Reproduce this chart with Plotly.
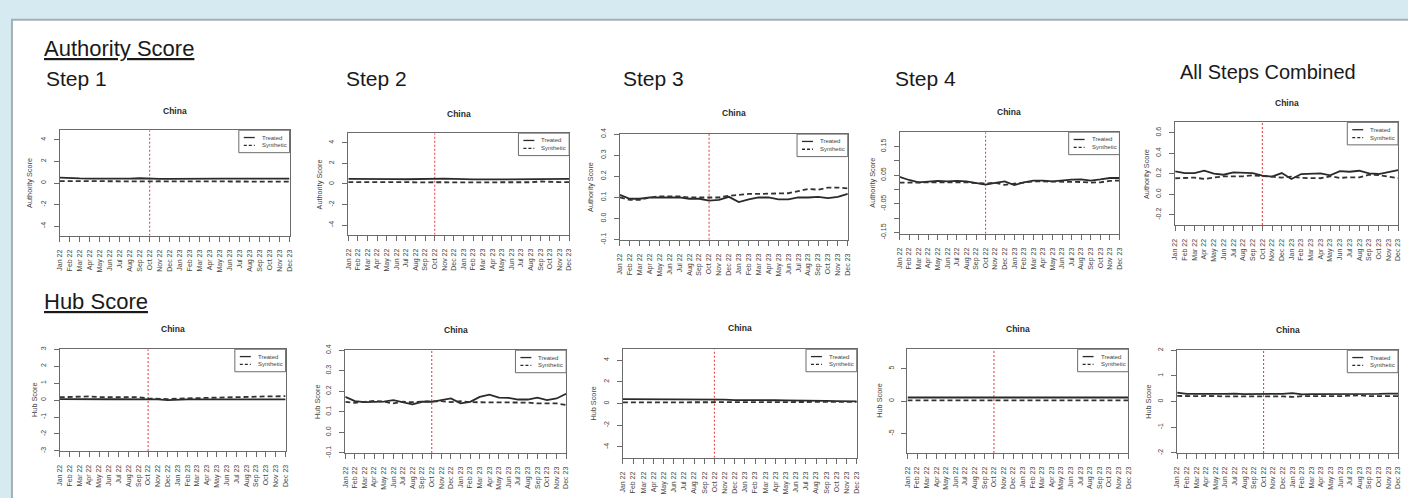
import plotly.graph_objects as go

W, H = 1408, 498

months = ["Jan 22", "Feb 22", "Mar 22", "Apr 22", "May 22", "Jun 22", "Jul 22", "Aug 22",
          "Sep 22", "Oct 22", "Nov 22", "Dec 22", "Jan 23", "Feb 23", "Mar 23", "Apr 23",
          "May 23", "Jun 23", "Jul 23", "Aug 23", "Sep 23", "Oct 23", "Nov 23", "Dec 23"]
treatment_month = "Oct 22"

# Authority score, China: treated unit vs synthetic control
auth_step1_treated = [0.50, 0.44, 0.42, 0.41, 0.40, 0.40, 0.41, 0.40, 0.44, 0.40, 0.38, 0.39,
                      0.38, 0.38, 0.39, 0.38, 0.40, 0.40, 0.41, 0.39, 0.40, 0.38, 0.39, 0.40]
auth_step1_synth = [0.18, 0.17, 0.16, 0.17, 0.15, 0.16, 0.16, 0.15, 0.16, 0.15, 0.16, 0.17,
                    0.14, 0.15, 0.15, 0.14, 0.15, 0.14, 0.13, 0.14, 0.12, 0.12, 0.13, 0.13]
auth_step2_treated = [0.50, 0.48, 0.47, 0.48, 0.47, 0.47, 0.46, 0.47, 0.55, 0.54, 0.52, 0.50,
                      0.45, 0.44, 0.44, 0.45, 0.45, 0.48, 0.46, 0.47, 0.47, 0.48, 0.48, 0.49]
auth_step2_synth = [0.18, 0.19, 0.18, 0.19, 0.18, 0.19, 0.18, 0.16, 0.18, 0.15, 0.17, 0.16,
                    0.16, 0.15, 0.16, 0.18, 0.20, 0.17, 0.18, 0.17, 0.24, 0.19, 0.18, 0.19]
auth_step3_treated = [0.112, 0.094, 0.094, 0.100, 0.100, 0.100, 0.100, 0.094, 0.094, 0.085, 0.089, 0.103,
                      0.078, 0.091, 0.100, 0.100, 0.091, 0.091, 0.100, 0.100, 0.103, 0.097, 0.103, 0.117]
auth_step3_synth = [0.100, 0.089, 0.089, 0.100, 0.105, 0.105, 0.105, 0.100, 0.100, 0.100, 0.100, 0.108,
                    0.112, 0.117, 0.117, 0.117, 0.117, 0.120, 0.130, 0.140, 0.137, 0.147, 0.147, 0.143]
auth_step4_treated = [0.044, 0.033, 0.025, 0.028, 0.030, 0.028, 0.030, 0.028, 0.022, 0.017, 0.023, 0.028,
                      0.015, 0.025, 0.031, 0.031, 0.028, 0.032, 0.034, 0.035, 0.031, 0.035, 0.040, 0.040]
auth_step4_synth = [0.024, 0.024, 0.024, 0.026, 0.026, 0.024, 0.026, 0.025, 0.022, 0.021, 0.023, 0.016,
                    0.020, 0.025, 0.028, 0.028, 0.028, 0.028, 0.026, 0.026, 0.024, 0.025, 0.030, 0.031]
auth_all_treated = [0.222, 0.206, 0.206, 0.229, 0.200, 0.190, 0.213, 0.213, 0.206, 0.181, 0.171, 0.206,
                    0.149, 0.197, 0.203, 0.203, 0.184, 0.225, 0.219, 0.229, 0.203, 0.197, 0.216, 0.235]
auth_all_synth = [0.156, 0.156, 0.162, 0.149, 0.162, 0.175, 0.175, 0.175, 0.184, 0.181, 0.171, 0.162,
                  0.171, 0.159, 0.156, 0.156, 0.175, 0.159, 0.165, 0.165, 0.190, 0.187, 0.171, 0.156]

# Hub score, China: treated unit vs synthetic control
hub_step1_treated = [0.06, 0.05, 0.05, 0.05, 0.05, 0.05, 0.05, 0.05, 0.05, 0.06, 0.04, 0.00,
                     0.03, 0.04, 0.04, 0.04, 0.04, 0.04, 0.04, 0.04, 0.04, 0.04, 0.04, 0.04]
hub_step1_synth = [0.17, 0.18, 0.19, 0.22, 0.18, 0.18, 0.17, 0.17, 0.17, 0.10, 0.08, 0.06,
                   0.09, 0.10, 0.11, 0.11, 0.12, 0.13, 0.15, 0.18, 0.20, 0.22, 0.23, 0.23]
hub_step2_treated = [0.173, 0.152, 0.147, 0.147, 0.150, 0.157, 0.147, 0.136, 0.149, 0.149, 0.157, 0.165,
                     0.141, 0.149, 0.173, 0.184, 0.169, 0.168, 0.160, 0.160, 0.169, 0.157, 0.165, 0.188]
hub_step2_synth = [0.149, 0.144, 0.149, 0.153, 0.150, 0.141, 0.149, 0.147, 0.150, 0.152, 0.152, 0.147,
                   0.152, 0.147, 0.147, 0.147, 0.147, 0.144, 0.144, 0.145, 0.141, 0.141, 0.141, 0.133]
hub_step3_treated = [0.40, 0.40, 0.39, 0.38, 0.36, 0.40, 0.36, 0.35, 0.36, 0.36, 0.36, 0.32,
                     0.30, 0.30, 0.30, 0.30, 0.29, 0.29, 0.28, 0.25, 0.24, 0.22, 0.22, 0.20]
hub_step3_synth = [0.10, 0.10, 0.08, 0.09, 0.10, 0.08, 0.09, 0.08, 0.09, 0.10, 0.09, 0.09,
                   0.09, 0.09, 0.09, 0.10, 0.10, 0.11, 0.14, 0.16, 0.15, 0.16, 0.17, 0.15]
hub_step4_treated = [0.55, 0.55, 0.54, 0.54, 0.53, 0.54, 0.52, 0.53, 0.53, 0.52, 0.52, 0.52,
                     0.50, 0.55, 0.48, 0.48, 0.50, 0.50, 0.52, 0.50, 0.50, 0.52, 0.55, 0.55]
hub_step4_synth = [0.12, 0.12, 0.13, 0.12, 0.12, 0.11, 0.12, 0.11, 0.12, 0.12, 0.12, 0.12,
                   0.12, 0.12, 0.11, 0.12, 0.11, 0.12, 0.12, 0.11, 0.05, 0.08, 0.10, 0.10]
hub_all_treated = [0.35, 0.30, 0.30, 0.31, 0.30, 0.30, 0.31, 0.29, 0.29, 0.29, 0.29, 0.30,
                   0.33, 0.28, 0.29, 0.29, 0.29, 0.29, 0.28, 0.28, 0.30, 0.30, 0.31, 0.31]
hub_all_synth = [0.22, 0.21, 0.21, 0.22, 0.20, 0.20, 0.20, 0.20, 0.20, 0.21, 0.21, 0.20,
                 0.18, 0.21, 0.21, 0.20, 0.21, 0.21, 0.22, 0.25, 0.21, 0.20, 0.21, 0.21]

# y tick values / labels per panel
yt_pm4 = [-4, -2, 0, 2, 4]
yt_dec = [-0.1, 0.0, 0.1, 0.2, 0.3, 0.4]
yl_dec = ["-0.1", "0.0", "0.1", "0.2", "0.3", "0.4"]
yt_step4 = [-0.15, -0.10, -0.05, 0.0, 0.05, 0.10, 0.15]
yl_step4 = ["-0.15", "", "-0.05", "", "0.05", "", "0.15"]
yt_all = [-0.2, 0.0, 0.2, 0.4, 0.6]
yl_all = ["-0.2", "0.0", "0.2", "0.4", "0.6"]
yt_pm3 = [-3, -2, -1, 0, 1, 2, 3]
yt_pm5 = [-5, 0, 5]
yt_pm2 = [-2, -1, 0, 1, 2]

# panel geometry in pixels: (left, top, right, bottom), title centre y, y-title x
panels = [
    dict(tr=auth_step1_treated, sy=auth_step1_synth, box=(56, 127, 287, 235), yr=(-4.9, 4.9),
         yt=yt_pm4, yl=None, ytitle="Authority Score", ytx=25, cty=107),
    dict(tr=auth_step2_treated, sy=auth_step2_synth, box=(346, 130, 568, 234), yr=(-4.95, 4.95),
         yt=yt_pm4, yl=None, ytitle="Authority Score", ytx=318, cty=110),
    dict(tr=auth_step3_treated, sy=auth_step3_synth, box=(619, 131, 848, 239), yr=(-0.1, 0.4),
         yt=yt_dec, yl=yl_dec, ytitle="Authority Score", ytx=590, cty=109),
    dict(tr=auth_step4_treated, sy=auth_step4_synth, box=(900, 129, 1121, 233), yr=(-0.155, 0.2),
         yt=yt_step4, yl=yl_step4, ytitle="Authority Score", ytx=872, cty=108),
    dict(tr=auth_all_treated, sy=auth_all_synth, box=(1177, 119, 1401, 224), yr=(-0.3, 0.7),
         yt=yt_all, yl=yl_all, ytitle="Authority Score", ytx=1148, cty=99),
    dict(tr=hub_step1_treated, sy=hub_step1_synth, box=(56, 351, 283, 455), yr=(-3, 3),
         yt=yt_pm3, yl=None, ytitle="Hub Score", ytx=30, cty=330),
    dict(tr=hub_step2_treated, sy=hub_step2_synth, box=(343, 352, 565, 457), yr=(-0.1, 0.4),
         yt=yt_dec, yl=yl_dec, ytitle="Hub Score", ytx=315, cty=331),
    dict(tr=hub_step3_treated, sy=hub_step3_synth, box=(622, 351, 857, 462), yr=(-5.0, 5.0),
         yt=yt_pm4, yl=None, ytitle="Hub Score", ytx=592, cty=329),
    dict(tr=hub_step4_treated, sy=hub_step4_synth, box=(908, 351, 1130, 457), yr=(-8, 8),
         yt=yt_pm5, yl=None, ytitle="Hub Score", ytx=879, cty=330),
    dict(tr=hub_all_treated, sy=hub_all_synth, box=(1179, 352, 1401, 457), yr=(-2, 2),
         yt=yt_pm2, yl=None, ytitle="Hub Score", ytx=1150, cty=331),
]

FONT = "Liberation Sans, Arial, sans-serif"
INK = "#2a2a2a"
AXIS = "#6b6b6b"
TICKTXT = "#444444"


def px(x):
    return x / W


def py(y):
    return 1 - y / H


fig = go.Figure()
layout = dict(
    width=W, height=H, margin=dict(l=0, r=0, t=0, b=0),
    paper_bgcolor="#d6eaf2", plot_bgcolor="white", showlegend=False,
    font=dict(family=FONT, color=INK),
)
shapes = []
annotations = []

# white slide panel
shapes.append(dict(type="rect", xref="paper", yref="paper", x0=px(8), x1=px(1420), y0=py(510), y1=py(14),
                   fillcolor="white", line=dict(color="#a6b0b4", width=2), layer="below"))

xi = list(range(len(months)))
t_idx = months.index(treatment_month)

for k, p in enumerate(panels, start=1):
    sfx = "" if k == 1 else str(k)
    xa, ya = "x" + sfx, "y" + sfx
    l, t, r, b = p["box"]
    # treatment date marker (vertical dotted red line across the full y range)
    fig.add_trace(go.Scatter(x=[t_idx, t_idx], y=list(p["yr"]), mode="lines", xaxis=xa, yaxis=ya,
                             line=dict(color="#e8474a", width=1.1, dash="2px,2px"), hoverinfo="skip"))
    fig.add_trace(go.Scatter(x=xi, y=p["tr"], mode="lines", name="Treated", xaxis=xa, yaxis=ya,
                             line=dict(color=INK, width=1.8)))
    fig.add_trace(go.Scatter(x=xi, y=p["sy"], mode="lines", name="Synthetic", xaxis=xa, yaxis=ya,
                             line=dict(color="#333333", width=1.8, dash="5px,3px")))
    layout["xaxis" + sfx] = dict(
        domain=[px(l), px(r)], anchor=ya, range=[0, len(months) - 1],
        tickmode="array", tickvals=xi, ticktext=months, tickangle=-90,
        ticks="outside", ticklen=5, tickwidth=1, tickcolor=AXIS,
        tickfont=dict(size=7, color=TICKTXT), ticklabelstandoff=5,
        showline=True, linecolor=AXIS, linewidth=1, mirror=True,
        showgrid=False, zeroline=False, fixedrange=True,
    )
    layout["yaxis" + sfx] = dict(
        domain=[py(b), py(t)], anchor=xa, range=list(p["yr"]),
        tickmode="array", tickvals=p["yt"], ticktext=p["yl"] if p["yl"] else [str(v) for v in p["yt"]],
        tickangle=-90, ticks="outside", ticklen=5, tickwidth=1, tickcolor=AXIS,
        tickfont=dict(size=7, color=TICKTXT), ticklabelstandoff=5,
        showline=True, linecolor=AXIS, linewidth=1, mirror=True,
        showgrid=False, zeroline=False, fixedrange=True,
    )
    # panel title and y-axis title
    annotations.append(dict(text="<b>China</b>", xref="paper", yref="paper", x=px((l + r) / 2), y=py(p["cty"]),
                            showarrow=False, xanchor="center", yanchor="middle",
                            font=dict(size=8.5, color=INK)))
    annotations.append(dict(text=p["ytitle"], xref="paper", yref="paper", x=px(p["ytx"]), y=py((t + b) / 2),
                            showarrow=False, xanchor="center", yanchor="middle", textangle=-90,
                            font=dict(size=7.3, color=TICKTXT)))
    # legend box in the top-right corner
    lx0, lx1, ly0, ly1 = r - 51, r, t, t + 23
    shapes.append(dict(type="rect", xref="paper", yref="paper", x0=px(lx0), x1=px(lx1), y0=py(ly1), y1=py(ly0),
                       fillcolor="white", line=dict(color=AXIS, width=1)))
    for row, (label, dash) in enumerate([("Treated", "solid"), ("Synthetic", "3px,2px")]):
        yy = ly0 + 7.5 + row * 8
        shapes.append(dict(type="line", xref="paper", yref="paper", x0=px(lx0 + 5), x1=px(lx0 + 16),
                           y0=py(yy), y1=py(yy), line=dict(color=INK, width=1.3, dash=dash)))
        annotations.append(dict(text=label, xref="paper", yref="paper", x=px(lx0 + 21), y=py(yy),
                                showarrow=False, xanchor="left", yanchor="middle",
                                font=dict(size=6, color=TICKTXT)))

# section headings
headings = [
    ("<u>Authority Score</u>", 38, 43, 22),
    ("Step 1", 40, 74, 21),
    ("Step 2", 342, 74, 21),
    ("Step 3", 620, 74, 21),
    ("Step 4", 893, 74, 21),
    ("All Steps Combined", 1180, 68, 20),
    ("<u>Hub Score</u>", 38, 302, 22),
]
for text, x, y, size in headings:
    annotations.append(dict(text=text, xref="paper", yref="paper", x=px(x), y=py(y), showarrow=False,
                            xanchor="left", yanchor="middle", font=dict(size=size, color="#1a1a1a")))

layout["shapes"] = shapes
layout["annotations"] = annotations
fig.update_layout(**layout)
fig.write_html("out.html")
